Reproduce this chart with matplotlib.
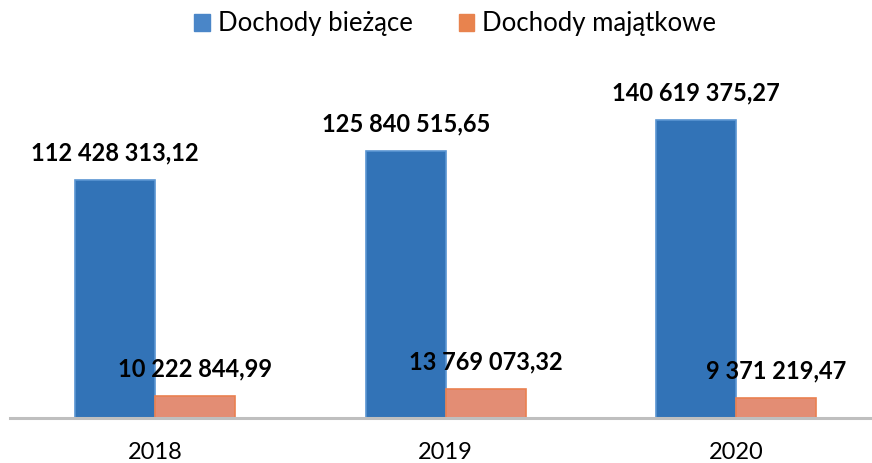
import numpy as np
import matplotlib.pyplot as plt
from matplotlib.patches import Patch

years = ['2018', '2019', '2020']
biezace = [112428313.12, 125840515.65, 140619375.27]
majatkowe = [10222844.99, 13769073.32, 9371219.47]
series_names = ['Dochody bieżące', 'Dochody majątkowe']


def fmt(v):
    s = '{:,.2f}'.format(v)
    whole, dec = s.split('.')
    return whole.replace(',', ' ') + ',' + dec


plt.rcParams['font.family'] = ['Lato', 'DejaVu Sans']

fig = plt.figure(figsize=(8.72, 4.63), dpi=100)
# axes: left 10 px, baseline at y=417 px
ax = fig.add_axes([10 / 872, (463 - 418) / 463, 862 / 872, (418 - 60) / 463])

x = np.arange(len(years))
w = 0.275
b1 = ax.bar(x - w / 2, biezace, w, color='#3273b7', edgecolor='#5a95d2', linewidth=1.2)
b2 = ax.bar(x + w / 2, majatkowe, w, color='#e38d74', edgecolor='#ea8050', linewidth=1.2)

ax.set_xlim(-0.5, -0.5 + 862 / 290.5)
ax.set_ylim(0, 358 / 2.12 * 1e6)

for bars, vals in ((b1, biezace), (b2, majatkowe)):
    for rect, v in zip(bars, vals):
        ax.annotate(fmt(v), (rect.get_x() + rect.get_width() / 2, v),
                    xytext=(0, 19.5), textcoords='offset points',
                    ha='center', va='center', fontsize=17, fontweight='bold',
                    color='black')

for s in ['top', 'right', 'left']:
    ax.spines[s].set_visible(False)
ax.spines['bottom'].set_color('#bfbfbf')
ax.spines['bottom'].set_linewidth(2.2)
ax.set_yticks([])
ax.set_xticks(x)
ax.set_xticklabels(years, fontsize=17)
ax.tick_params(axis='x', length=0, pad=17)

handles = [Patch(color='#4a86c8'), Patch(color='#e8834e')]
fig.legend(handles, series_names, loc='center', bbox_to_anchor=(0.522, 1 - 24 / 463),
           ncol=2, frameon=False, fontsize=18.5, handlelength=0.6, handleheight=0.6,
           handletextpad=0.3, columnspacing=1.8)

fig.savefig('out.png', dpi=100)
